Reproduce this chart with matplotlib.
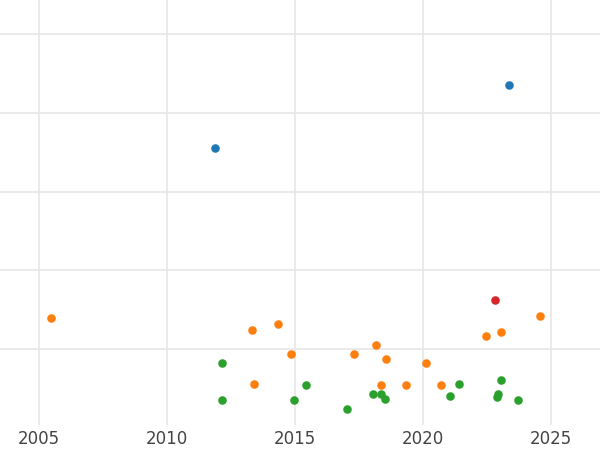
import matplotlib
matplotlib.use("Agg")
import matplotlib.pyplot as plt

blue_x = [2011.88, 2023.36]
blue_y = [3.55, 4.35]
red_x = [2022.81]
red_y = [1.63]
orange_x = [2005.47, 2013.32, 2014.34, 2014.84, 2013.40, 2017.30, 2018.16, 2018.55,
            2018.36, 2019.34, 2020.12, 2020.70, 2022.46, 2023.05, 2024.57]
orange_y = [1.39, 1.24, 1.32, 0.94, 0.56, 0.94, 1.05, 0.87, 0.54, 0.54, 0.82, 0.54,
            1.17, 1.22, 1.42]
green_x = [2012.15, 2012.15, 2015.43, 2014.96, 2017.03, 2018.05, 2018.36, 2018.52,
           2021.41, 2021.05, 2022.89, 2022.93, 2023.05, 2023.71]
green_y = [0.82, 0.35, 0.54, 0.35, 0.24, 0.43, 0.43, 0.37, 0.56, 0.40, 0.39, 0.43,
           0.61, 0.35]
xticks = [2005, 2010, 2015, 2020, 2025]
yticks = [1, 2, 3, 4, 5]

fig = plt.figure(figsize=(6, 4.5), dpi=100)
ax = fig.add_axes([0, 0.055, 1, 0.945])
for x, y, c in [(blue_x, blue_y, "#1f77b4"), (red_x, red_y, "#d62728"),
                (orange_x, orange_y, "#ff7f0e"), (green_x, green_y, "#2ca02c")]:
    ax.scatter(x, y, s=38, color=c, zorder=3, linewidths=0)
ax.set_xlim(2003.48, 2026.9)
ax.set_ylim(0.035, 5.43)
ax.set_xticks(xticks)
ax.set_yticks(yticks)
ax.set_yticklabels([])
ax.grid(True, color="#e8e8e8", linewidth=1.3)
ax.tick_params(length=0, labelsize=12, labelcolor="#444444")
for s in ax.spines.values():
    s.set_visible(False)
fig.savefig("out.png")
